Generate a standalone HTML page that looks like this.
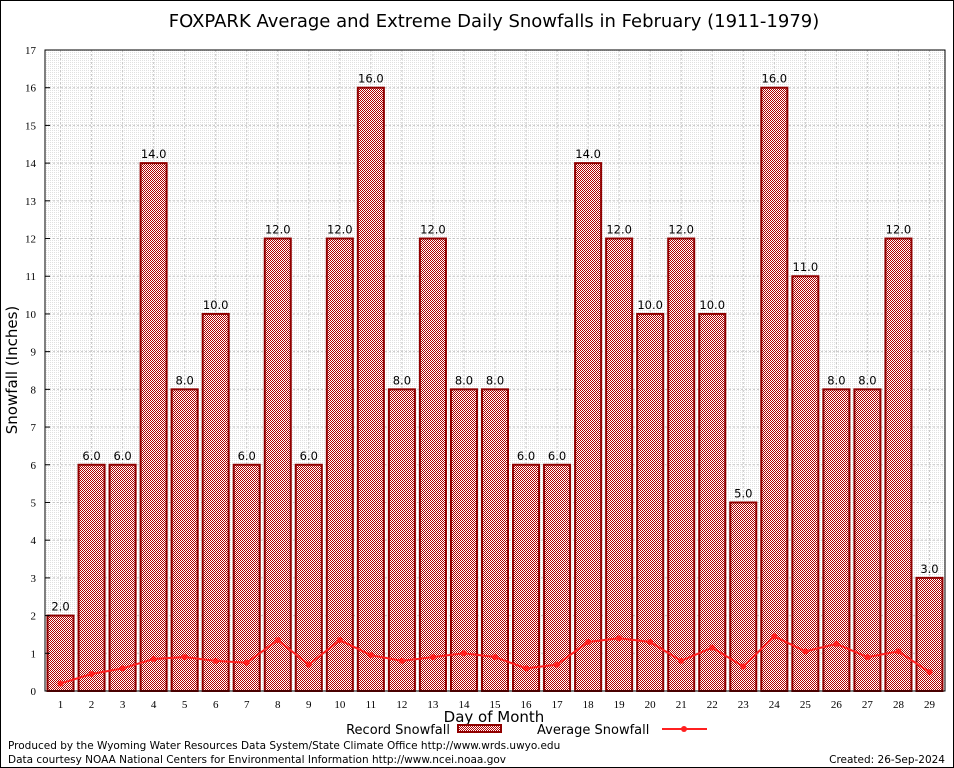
<!DOCTYPE html>
<html><head><meta charset="utf-8"><style>
html,body{margin:0;padding:0;background:#fff;}
svg{display:block;}
</style></head><body>
<svg id="chart" width="954" height="768" xmlns="http://www.w3.org/2000/svg">
<defs>
<pattern id="chk" width="2" height="2" patternUnits="userSpaceOnUse">
<rect width="2" height="2" fill="#fff" shape-rendering="crispEdges"/><rect width="1" height="1" fill="#b00000" shape-rendering="crispEdges"/><rect x="1" y="1" width="1" height="1" fill="#b00000" shape-rendering="crispEdges"/>
</pattern>
<pattern id="dots" width="2" height="2" patternUnits="userSpaceOnUse">
<rect width="2" height="2" fill="#fff"/><rect width="1" height="1" fill="#e0e0e0" shape-rendering="crispEdges"/>
</pattern>
</defs>
<rect x="0.5" y="0.5" width="953" height="767" fill="#fff" stroke="#000"/>
<text x="494" y="27" font-family="DejaVu Sans, sans-serif" font-size="18" text-anchor="middle">FOXPARK Average and Extreme Daily Snowfalls in February (1911-1979)</text>
<rect x="45" y="50" width="900" height="641" fill="url(#dots)"/>
<g id="grid"></g>
<g id="bars"></g>
<g id="avg"></g>
<g id="axes"></g>
<text transform="translate(17,370) rotate(-90)" font-family="DejaVu Sans, sans-serif" font-size="15" text-anchor="middle">Snowfall (Inches)</text>
<text x="494" y="722" font-family="DejaVu Sans, sans-serif" font-size="15" text-anchor="middle">Day of Month</text>
<g font-family="DejaVu Sans, sans-serif" font-size="13">
<text x="450" y="734" text-anchor="end">Record Snowfall</text>
<rect x="458" y="725" width="43" height="7" fill="url(#chk)" stroke="#900000" stroke-width="2"/>
<text x="537" y="734">Average Snowfall</text>
<line x1="662" y1="729" x2="707" y2="729" stroke="#ff2020" stroke-width="2"/>
<circle cx="684" cy="729" r="3" fill="#ff2020"/>
</g>
<text x="8" y="749" font-family="DejaVu Sans, sans-serif" font-size="10.5">Produced by the Wyoming Water Resources Data System/State Climate Office http://www.wrds.uwyo.edu</text>
<text x="8" y="763" font-family="DejaVu Sans, sans-serif" font-size="10.5">Data courtesy NOAA National Centers for Environmental Information http://www.ncei.noaa.gov</text>
<text x="945" y="763" font-family="DejaVu Sans, sans-serif" font-size="10.5" text-anchor="end">Created:  26-Sep-2024</text>
</svg>
<script>
const days=[1,2,3,4,5,6,7,8,9,10,11,12,13,14,15,16,17,18,19,20,21,22,23,24,25,26,27,28,29];
const recordSnow=[2,6,6,14,8,10,6,12,6,12,16,8,12,8,8,6,6,14,12,10,12,10,5,16,11,8,8,12,3];
const avgSnow=[0.2,0.45,0.6,0.85,0.9,0.8,0.75,1.35,0.7,1.35,0.95,0.8,0.9,1.0,0.9,0.6,0.7,1.3,1.4,1.3,0.8,1.15,0.65,1.45,1.05,1.25,0.9,1.05,0.5];
const yTicks=[0,1,2,3,4,5,6,7,8,9,10,11,12,13,14,15,16,17];
const NS='http://www.w3.org/2000/svg';
const L=45,R=945,T=50,B=691,YMAX=17;
const step=(R-L)/days.length;
const xc=i=>L+step*(i+0.5);
const y=v=>B-(v/YMAX)*(B-T);
function mk(tag,attrs,parent){const e=document.createElementNS(NS,tag);for(const k in attrs)e.setAttribute(k,attrs[k]);parent.appendChild(e);return e;}
const grid=document.getElementById('grid'),bars=document.getElementById('bars'),avg=document.getElementById('avg'),axes=document.getElementById('axes');
yTicks.forEach(t=>{
  if(t>0&&t<YMAX){const g=mk('line',{x1:L,x2:R,y1:y(t),y2:y(t),stroke:'#c8c8c8','stroke-dasharray':'2,2'},grid);
  
  }
  const tx=mk('text',{x:L-9,y:y(t)+4,'text-anchor':'end','font-family':'Liberation Serif, serif','font-size':'11'},axes);
  tx.textContent=t;
  
  
  const tk=mk('line',{x1:L,x2:L+5,y1:y(t),y2:y(t),stroke:'#000'},axes);
  
  
});
days.forEach((d,i)=>{
  const g=mk('line',{x1:xc(i),x2:xc(i),y1:T,y2:B,stroke:'#c8c8c8','stroke-dasharray':'2,2'},grid);
  
  
  const bw=step-5;
  const b=mk('rect',{x:xc(i)-bw/2,y:y(recordSnow[i]),width:bw,height:B-y(recordSnow[i]),fill:'url(#chk)',stroke:'#900000','stroke-width':2},bars);
  
  
  const lb=mk('text',{x:xc(i),y:y(recordSnow[i])-5,'text-anchor':'middle','font-family':'DejaVu Sans, sans-serif','font-size':'11.5'},bars);
  lb.textContent=recordSnow[i].toFixed(1);
  
  
  const tx=mk('text',{x:xc(i),y:B+17,'text-anchor':'middle','font-family':'Liberation Serif, serif','font-size':'11'},axes);
  tx.textContent=d;
  
  
});
const pts=avgSnow.map((v,i)=>xc(i)+','+y(v)).join(' ');
const pl=mk('polyline',{points:pts,fill:'none',stroke:'#ff2020','stroke-width':2},avg);


avgSnow.forEach((v,i)=>{
  const c=mk('circle',{cx:xc(i),cy:y(v),r:3,fill:'#ff2020'},avg);
  
  
});
const fr=mk('rect',{x:L,y:T,width:R-L,height:B-T,fill:'none',stroke:'#000'},axes);


</script>
</body></html>
